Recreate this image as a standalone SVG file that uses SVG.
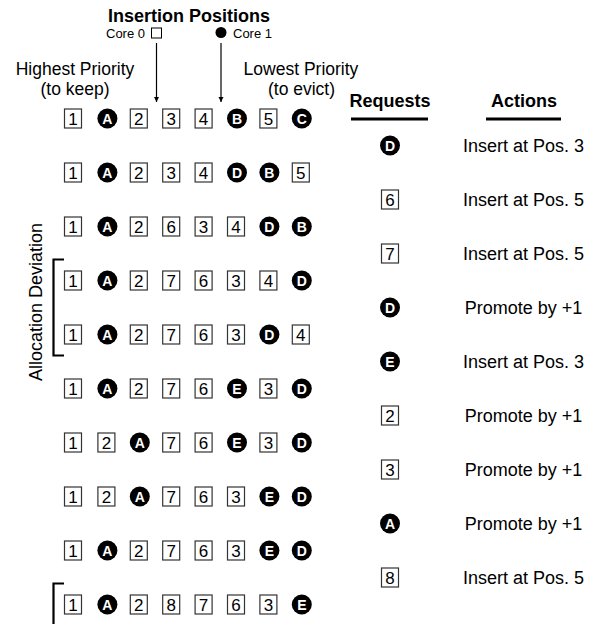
<svg xmlns="http://www.w3.org/2000/svg" width="594" height="624" viewBox="0 0 594 624">
<defs>
<style>
text{font-family:"Liberation Sans",Arial,Helvetica,sans-serif;fill:#000}
.b{fill:#fff;stroke:#333;stroke-width:1.2}
.n{font-size:17px;text-anchor:middle}
.c{fill:#000}
.l{font-size:14px;font-weight:bold;fill:#fff;text-anchor:middle}
.h{font-size:18px;text-anchor:middle}
.hp{font-size:17.5px;text-anchor:middle}
.hb{font-size:18px;font-weight:bold;text-anchor:middle}
.s{font-size:13px}
.act{font-size:18px;text-anchor:middle}
.ln{stroke:#000;stroke-width:1.2;fill:none}
.br{stroke:#000;stroke-width:2.2;fill:none}
</style>
<marker id="ah" viewBox="0 0 10 10" refX="10" refY="5" markerWidth="5" markerHeight="6" orient="auto" markerUnits="userSpaceOnUse">
<path d="M0,0 L10,5 L0,10 z" fill="#000"/>
</marker>
<g id="box"><rect class="b" x="-8.5" y="-9.5" width="17" height="19"/></g>
<g id="dot"><circle class="c" r="10"/></g>
</defs>

<g id="titles">
<text class="hb" x="189" y="22">Insertion Positions</text>
<text class="s" x="106" y="38">Core 0</text>
<rect x="151.5" y="28" width="10" height="10" fill="#fff" stroke="#000" stroke-width="1"/>
<circle cx="221" cy="32.5" r="5.5" fill="#000"/>
<text class="s" x="233" y="38">Core 1</text>
<text class="hp" x="75" y="75">Highest Priority</text>
<text class="hp" x="75" y="94.5">(to keep)</text>
<text class="hp" x="301" y="75">Lowest Priority</text>
<text class="hp" x="301.5" y="94.5">(to evict)</text>
<text class="hb" x="390" y="107">Requests</text>
<rect x="351" y="117.5" width="77" height="3" fill="#000"/>
<text class="hb" x="524" y="107">Actions</text>
<rect x="486" y="117.5" width="75" height="3" fill="#000"/>
<text class="h" transform="translate(42,302) rotate(-90)">Allocation Deviation</text>
</g>

<g id="connectors">
<line class="ln" x1="156.5" y1="43" x2="156.5" y2="102" marker-end="url(#ah)"/>
<line class="ln" x1="221" y1="43" x2="221" y2="102" marker-end="url(#ah)"/>
<path class="br" d="M64,259.5 H53.5 V355.5 H64"/>
<path class="br" d="M64,583.5 H53.5 V624"/>
</g>

<g id="row1">
<g id="r1-1" transform="translate(73,118.5)"><use href="#box"/><text class="n" y="6">1</text></g>
<g id="r1-2" transform="translate(107.4,118.5)"><use href="#dot"/><text class="l" y="5">A</text></g>
<g id="r1-3" transform="translate(138.8,118.5)"><use href="#box"/><text class="n" y="6">2</text></g>
<g id="r1-4" transform="translate(171.2,118.5)"><use href="#box"/><text class="n" y="6">3</text></g>
<g id="r1-5" transform="translate(203.6,118.5)"><use href="#box"/><text class="n" y="6">4</text></g>
<g id="r1-6" transform="translate(237,118.5)"><use href="#dot"/><text class="l" y="5">B</text></g>
<g id="r1-7" transform="translate(268.4,118.5)"><use href="#box"/><text class="n" y="6">5</text></g>
<g id="r1-8" transform="translate(301.8,118.5)"><use href="#dot"/><text class="l" y="5">C</text></g>
</g>
<g id="row2">
<g id="r2-1" transform="translate(73,172.5)"><use href="#box"/><text class="n" y="6">1</text></g>
<g id="r2-2" transform="translate(107.4,172.5)"><use href="#dot"/><text class="l" y="5">A</text></g>
<g id="r2-3" transform="translate(138.8,172.5)"><use href="#box"/><text class="n" y="6">2</text></g>
<g id="r2-4" transform="translate(171.2,172.5)"><use href="#box"/><text class="n" y="6">3</text></g>
<g id="r2-5" transform="translate(203.6,172.5)"><use href="#box"/><text class="n" y="6">4</text></g>
<g id="r2-6" transform="translate(237,172.5)"><use href="#dot"/><text class="l" y="5">D</text></g>
<g id="r2-7" transform="translate(269.4,172.5)"><use href="#dot"/><text class="l" y="5">B</text></g>
<g id="r2-8" transform="translate(300.8,172.5)"><use href="#box"/><text class="n" y="6">5</text></g>
</g>
<g id="row3">
<g id="r3-1" transform="translate(73,226.5)"><use href="#box"/><text class="n" y="6">1</text></g>
<g id="r3-2" transform="translate(107.4,226.5)"><use href="#dot"/><text class="l" y="5">A</text></g>
<g id="r3-3" transform="translate(138.8,226.5)"><use href="#box"/><text class="n" y="6">2</text></g>
<g id="r3-4" transform="translate(171.2,226.5)"><use href="#box"/><text class="n" y="6">6</text></g>
<g id="r3-5" transform="translate(203.6,226.5)"><use href="#box"/><text class="n" y="6">3</text></g>
<g id="r3-6" transform="translate(236,226.5)"><use href="#box"/><text class="n" y="6">4</text></g>
<g id="r3-7" transform="translate(269.4,226.5)"><use href="#dot"/><text class="l" y="5">D</text></g>
<g id="r3-8" transform="translate(301.8,226.5)"><use href="#dot"/><text class="l" y="5">B</text></g>
</g>
<g id="row4">
<g id="r4-1" transform="translate(73,280.5)"><use href="#box"/><text class="n" y="6">1</text></g>
<g id="r4-2" transform="translate(107.4,280.5)"><use href="#dot"/><text class="l" y="5">A</text></g>
<g id="r4-3" transform="translate(138.8,280.5)"><use href="#box"/><text class="n" y="6">2</text></g>
<g id="r4-4" transform="translate(171.2,280.5)"><use href="#box"/><text class="n" y="6">7</text></g>
<g id="r4-5" transform="translate(203.6,280.5)"><use href="#box"/><text class="n" y="6">6</text></g>
<g id="r4-6" transform="translate(236,280.5)"><use href="#box"/><text class="n" y="6">3</text></g>
<g id="r4-7" transform="translate(268.4,280.5)"><use href="#box"/><text class="n" y="6">4</text></g>
<g id="r4-8" transform="translate(301.8,280.5)"><use href="#dot"/><text class="l" y="5">D</text></g>
</g>
<g id="row5">
<g id="r5-1" transform="translate(73,334.5)"><use href="#box"/><text class="n" y="6">1</text></g>
<g id="r5-2" transform="translate(107.4,334.5)"><use href="#dot"/><text class="l" y="5">A</text></g>
<g id="r5-3" transform="translate(138.8,334.5)"><use href="#box"/><text class="n" y="6">2</text></g>
<g id="r5-4" transform="translate(171.2,334.5)"><use href="#box"/><text class="n" y="6">7</text></g>
<g id="r5-5" transform="translate(203.6,334.5)"><use href="#box"/><text class="n" y="6">6</text></g>
<g id="r5-6" transform="translate(236,334.5)"><use href="#box"/><text class="n" y="6">3</text></g>
<g id="r5-7" transform="translate(269.4,334.5)"><use href="#dot"/><text class="l" y="5">D</text></g>
<g id="r5-8" transform="translate(300.8,334.5)"><use href="#box"/><text class="n" y="6">4</text></g>
</g>
<g id="row6">
<g id="r6-1" transform="translate(73,388.5)"><use href="#box"/><text class="n" y="6">1</text></g>
<g id="r6-2" transform="translate(107.4,388.5)"><use href="#dot"/><text class="l" y="5">A</text></g>
<g id="r6-3" transform="translate(138.8,388.5)"><use href="#box"/><text class="n" y="6">2</text></g>
<g id="r6-4" transform="translate(171.2,388.5)"><use href="#box"/><text class="n" y="6">7</text></g>
<g id="r6-5" transform="translate(203.6,388.5)"><use href="#box"/><text class="n" y="6">6</text></g>
<g id="r6-6" transform="translate(237,388.5)"><use href="#dot"/><text class="l" y="5">E</text></g>
<g id="r6-7" transform="translate(268.4,388.5)"><use href="#box"/><text class="n" y="6">3</text></g>
<g id="r6-8" transform="translate(301.8,388.5)"><use href="#dot"/><text class="l" y="5">D</text></g>
</g>
<g id="row7">
<g id="r7-1" transform="translate(73,442.5)"><use href="#box"/><text class="n" y="6">1</text></g>
<g id="r7-2" transform="translate(106.4,442.5)"><use href="#box"/><text class="n" y="6">2</text></g>
<g id="r7-3" transform="translate(139.8,442.5)"><use href="#dot"/><text class="l" y="5">A</text></g>
<g id="r7-4" transform="translate(171.2,442.5)"><use href="#box"/><text class="n" y="6">7</text></g>
<g id="r7-5" transform="translate(203.6,442.5)"><use href="#box"/><text class="n" y="6">6</text></g>
<g id="r7-6" transform="translate(237,442.5)"><use href="#dot"/><text class="l" y="5">E</text></g>
<g id="r7-7" transform="translate(268.4,442.5)"><use href="#box"/><text class="n" y="6">3</text></g>
<g id="r7-8" transform="translate(301.8,442.5)"><use href="#dot"/><text class="l" y="5">D</text></g>
</g>
<g id="row8">
<g id="r8-1" transform="translate(73,496.5)"><use href="#box"/><text class="n" y="6">1</text></g>
<g id="r8-2" transform="translate(106.4,496.5)"><use href="#box"/><text class="n" y="6">2</text></g>
<g id="r8-3" transform="translate(139.8,496.5)"><use href="#dot"/><text class="l" y="5">A</text></g>
<g id="r8-4" transform="translate(171.2,496.5)"><use href="#box"/><text class="n" y="6">7</text></g>
<g id="r8-5" transform="translate(203.6,496.5)"><use href="#box"/><text class="n" y="6">6</text></g>
<g id="r8-6" transform="translate(236,496.5)"><use href="#box"/><text class="n" y="6">3</text></g>
<g id="r8-7" transform="translate(269.4,496.5)"><use href="#dot"/><text class="l" y="5">E</text></g>
<g id="r8-8" transform="translate(301.8,496.5)"><use href="#dot"/><text class="l" y="5">D</text></g>
</g>
<g id="row9">
<g id="r9-1" transform="translate(73,550.5)"><use href="#box"/><text class="n" y="6">1</text></g>
<g id="r9-2" transform="translate(107.4,550.5)"><use href="#dot"/><text class="l" y="5">A</text></g>
<g id="r9-3" transform="translate(138.8,550.5)"><use href="#box"/><text class="n" y="6">2</text></g>
<g id="r9-4" transform="translate(171.2,550.5)"><use href="#box"/><text class="n" y="6">7</text></g>
<g id="r9-5" transform="translate(203.6,550.5)"><use href="#box"/><text class="n" y="6">6</text></g>
<g id="r9-6" transform="translate(236,550.5)"><use href="#box"/><text class="n" y="6">3</text></g>
<g id="r9-7" transform="translate(269.4,550.5)"><use href="#dot"/><text class="l" y="5">E</text></g>
<g id="r9-8" transform="translate(301.8,550.5)"><use href="#dot"/><text class="l" y="5">D</text></g>
</g>
<g id="row10">
<g id="r10-1" transform="translate(73,604.5)"><use href="#box"/><text class="n" y="6">1</text></g>
<g id="r10-2" transform="translate(107.4,604.5)"><use href="#dot"/><text class="l" y="5">A</text></g>
<g id="r10-3" transform="translate(138.8,604.5)"><use href="#box"/><text class="n" y="6">2</text></g>
<g id="r10-4" transform="translate(171.2,604.5)"><use href="#box"/><text class="n" y="6">8</text></g>
<g id="r10-5" transform="translate(203.6,604.5)"><use href="#box"/><text class="n" y="6">7</text></g>
<g id="r10-6" transform="translate(236,604.5)"><use href="#box"/><text class="n" y="6">6</text></g>
<g id="r10-7" transform="translate(268.4,604.5)"><use href="#box"/><text class="n" y="6">3</text></g>
<g id="r10-8" transform="translate(301.8,604.5)"><use href="#dot"/><text class="l" y="5">E</text></g>
</g>

<g id="requests">
<g id="q1" transform="translate(390,145.5)"><use href="#dot"/><text class="l" y="5">D</text></g>
<g id="q2" transform="translate(390,199.5)"><use href="#box"/><text class="n" y="6">6</text></g>
<g id="q3" transform="translate(390,253.5)"><use href="#box"/><text class="n" y="6">7</text></g>
<g id="q4" transform="translate(390,307.5)"><use href="#dot"/><text class="l" y="5">D</text></g>
<g id="q5" transform="translate(390,361.5)"><use href="#dot"/><text class="l" y="5">E</text></g>
<g id="q6" transform="translate(390,415.5)"><use href="#box"/><text class="n" y="6">2</text></g>
<g id="q7" transform="translate(390,469.5)"><use href="#box"/><text class="n" y="6">3</text></g>
<g id="q8" transform="translate(390,523.5)"><use href="#dot"/><text class="l" y="5">A</text></g>
<g id="q9" transform="translate(390,577.5)"><use href="#box"/><text class="n" y="6">8</text></g>
</g>

<g id="actions">
<text id="a1" class="act" x="523.5" y="152">Insert at Pos. 3</text>
<text id="a2" class="act" x="523.5" y="206">Insert at Pos. 5</text>
<text id="a3" class="act" x="523.5" y="260">Insert at Pos. 5</text>
<text id="a4" class="act" x="523.5" y="314">Promote by +1</text>
<text id="a5" class="act" x="523.5" y="368">Insert at Pos. 3</text>
<text id="a6" class="act" x="523.5" y="422">Promote by +1</text>
<text id="a7" class="act" x="523.5" y="476">Promote by +1</text>
<text id="a8" class="act" x="523.5" y="530">Promote by +1</text>
<text id="a9" class="act" x="523.5" y="584">Insert at Pos. 5</text>
</g>
</svg>
